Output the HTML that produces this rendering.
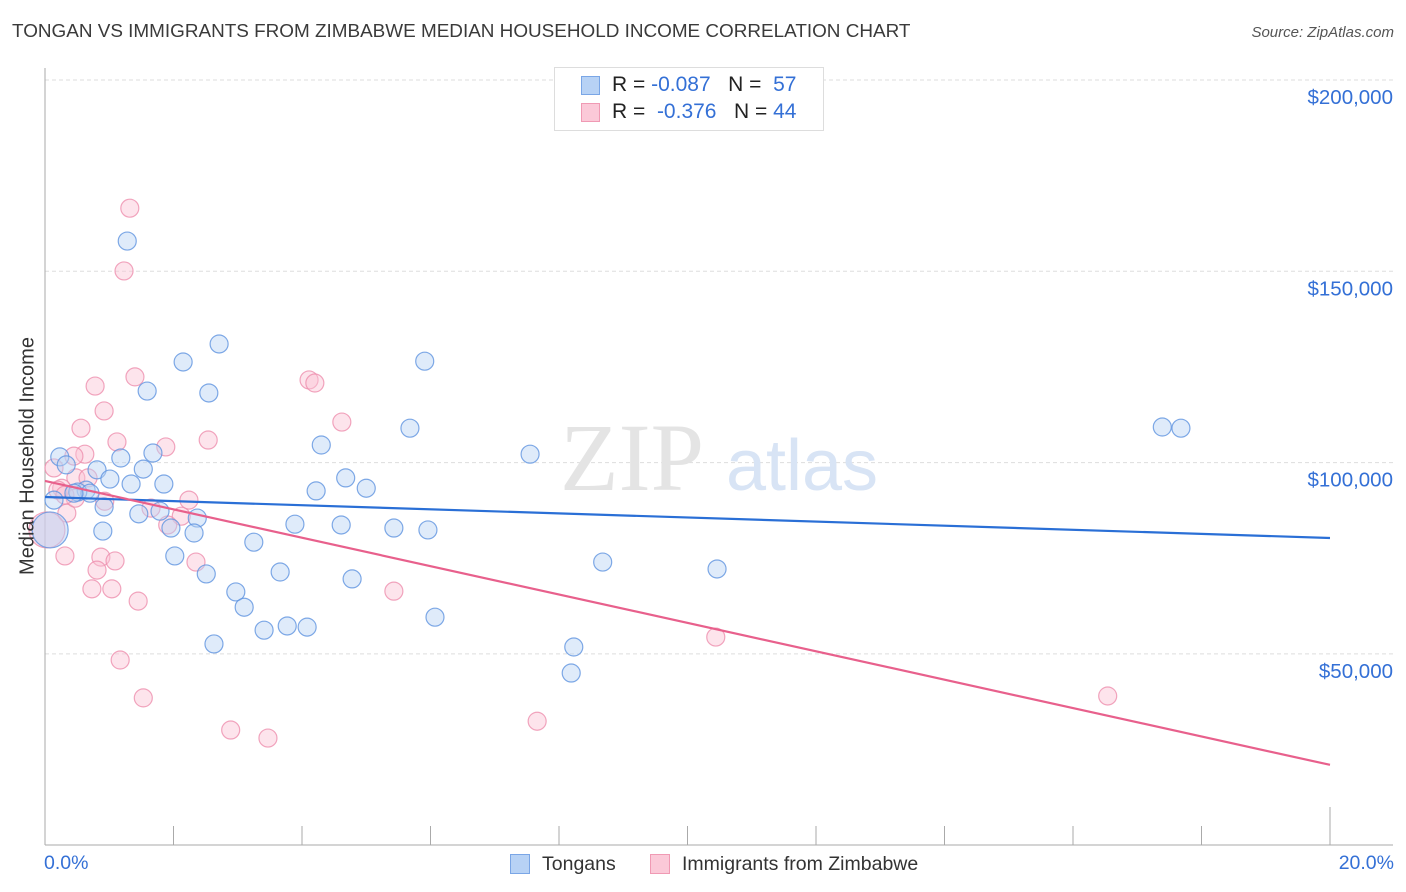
<!DOCTYPE html>
<html><head><meta charset="utf-8"><style>
body{margin:0;background:#fff;font-family:"Liberation Sans",sans-serif;}
#wrap{position:relative;width:1406px;height:892px;overflow:hidden;}
.t{position:absolute;white-space:nowrap;}
</style></head><body>
<div id="wrap">
<div class="t" style="left:12px;top:21px;font-size:18.9px;color:#3a3a3a;">TONGAN VS IMMIGRANTS FROM ZIMBABWE MEDIAN HOUSEHOLD INCOME CORRELATION CHART</div>
<div class="t" style="right:12px;top:24px;font-size:15px;color:#555;font-style:italic;">Source: ZipAtlas.com</div>
<svg id="svg" width="1406" height="892" style="position:absolute;left:0;top:0"></svg>
<div class="t" style="left:554px;top:67px;width:268px;height:62px;border:1px solid #ddd;background:#fff;"></div>
<div class="t" style="left:581px;top:76px;width:19px;height:19px;background:#b7d2f5;border:1px solid #7aa6e6;box-sizing:border-box;"></div>
<div class="t" style="left:581px;top:103px;width:19px;height:19px;background:#fbc9d8;border:1px solid #f09ab4;box-sizing:border-box;"></div>
<div class="t" style="left:612px;top:73px;font-size:21px;color:#222;">R = <span style="color:#3470d6">-0.087</span>&nbsp;&nbsp;&nbsp;N = &nbsp;<span style="color:#3470d6">57</span></div>
<div class="t" style="left:612px;top:100px;font-size:21px;color:#222;">R = &nbsp;<span style="color:#3470d6">-0.376</span>&nbsp;&nbsp;&nbsp;N = <span style="color:#3470d6">44</span></div>
<div class="t" style="left:28px;top:456px;font-size:20px;color:#333;transform:translate(-50%,-50%) rotate(-90deg);">Median Household Income</div>
<div class="t" style="left:44px;top:852px;font-size:19.5px;color:#3470d6;">0.0%</div>
<div class="t" style="right:12px;top:852px;font-size:19.5px;color:#3470d6;">20.0%</div>
<div class="t" style="left:510px;top:854px;width:20px;height:20px;background:#b7d2f5;border:1px solid #7aa6e6;box-sizing:border-box;"></div>
<div class="t" style="left:542px;top:853px;font-size:19.5px;color:#333;">Tongans</div>
<div class="t" style="left:650px;top:854px;width:20px;height:20px;background:#fbc9d8;border:1px solid #f09ab4;box-sizing:border-box;"></div>
<div class="t" style="left:682px;top:853px;font-size:19.5px;color:#333;">Immigrants from Zimbabwe</div>
</div>
<script>
const yTicks=[200000,150000,100000,50000];
const yTickLabels=["$200,000","$150,000","$100,000","$50,000"];
const xTicks=[0,2,4,6,8,10,12,14,16,18,20];
const tonganPct=[1.28,2.71,2.15,5.91,1.59,2.55,5.68,17.39,17.68,4.30,7.55,1.68,0.23,1.18,0.33,0.81,1.53,1.01,4.68,1.85,1.34,0.64,0.51,5.00,4.22,0.14,0.92,1.46,1.79,2.37,3.89,4.61,5.43,5.96,0.90,1.96,2.32,3.25,2.02,8.68,3.66,2.51,10.46,4.78,2.97,3.10,6.07,3.77,4.08,3.41,2.63,8.23,8.19,0.08,0.70,0.45];
const tonganIncome=[157900,131000,126300,126500,118700,118200,109000,109300,109000,104600,102200,102500,101500,101200,99400,98100,98300,95700,96000,94400,94400,92800,92300,93300,92600,90200,88400,86600,87300,85500,83900,83700,82900,82400,82100,82900,81600,79200,75600,74000,71400,70900,72200,69600,66200,62200,59600,57300,57000,56200,52600,51800,45000,82400,92000,92000];
const zimPct=[1.32,1.23,1.40,4.11,4.20,0.78,0.92,4.62,0.56,1.12,2.54,1.88,0.62,0.45,0.14,0.48,0.67,0.26,0.20,0.93,2.24,0.34,1.65,2.12,1.91,0.31,0.87,1.09,2.35,0.81,0.73,1.04,5.43,1.45,1.17,10.44,1.53,16.54,2.89,3.47,7.66,0.03,0.47,0.31];
const zimIncome=[166500,150100,122400,121600,120800,120000,113500,110600,109000,105400,105900,104100,102200,101700,98600,96000,96000,93300,92800,89900,90200,86800,88100,86000,83700,75600,75300,74300,74000,71900,67000,67000,66400,63800,48400,54400,38500,39000,30100,28000,32400,82400,90700,91500];
const tonganTrend=[91000,80300];
const zimTrend=[95200,21000];
const NS="http://www.w3.org/2000/svg";
const svg=document.getElementById('svg');
const X=p=>45+p/20*1285;
const Y=v=>80+(200000-v)*191.3/50000;
function mk(tag,attrs,name){const e=document.createElementNS(NS,tag);for(const k in attrs)e.setAttribute(k,attrs[k]);


svg.appendChild(e);return e;}
yTicks.forEach((v,i)=>{
  mk('line',{x1:45,x2:1393,y1:Y(v),y2:Y(v),stroke:'#ddd','stroke-dasharray':'4,3'},'gridline');
  const t=mk('text',{x:1393,y:Y(v)+24,'text-anchor':'end','font-size':20.5,fill:'#3470d6','font-family':'Liberation Sans'},'y-tick-label');
  t.textContent=yTickLabels[i];
});
mk('line',{x1:45,x2:45,y1:68,y2:845,stroke:'#aaa'},'y-axis-line');
mk('line',{x1:45,x2:1393,y1:845,y2:845,stroke:'#aaa'},'x-axis-line');
xTicks.forEach((p,i)=>{
  mk('line',{x1:X(p),x2:X(p),y1:(i==xTicks.length-1?807:826),y2:845,stroke:'#aaa'},'x-tick');
});
const wm=mk('text',{x:632,y:490,'text-anchor':'middle','font-size':96,fill:'#e4e4e4','font-family':'Liberation Serif'},'watermark-zip');wm.textContent='ZIP';
const wm2=mk('text',{x:802,y:490,'text-anchor':'middle','font-size':72,fill:'#d8e4f5','font-family':'Liberation Sans'},'watermark-atlas');wm2.textContent='atlas';
function pts(px,iv,fill,stroke,name){
  px.forEach((p,i)=>{const big=(p<0.1);
    mk('circle',{cx:X(p),cy:Y(iv[i]),r:big?18:9,fill:fill,'fill-opacity':big?0.5:0.45,stroke:stroke,'stroke-width':1.2,'stroke-opacity':0.8},name);});
}
pts(zimPct,zimIncome,'#fbc3d4','#ee8fae','point-zimbabwe');
pts(tonganPct,tonganIncome,'#b7d2f5','#5f93e0','point-tongan');
mk('line',{x1:X(0),x2:X(20),y1:Y(tonganTrend[0]),y2:Y(tonganTrend[1]),stroke:'#2a6fd6','stroke-width':2.2},'trend-tongans');
mk('line',{x1:X(0),x2:X(20),y1:Y(zimTrend[0]),y2:Y(zimTrend[1]),stroke:'#e8608c','stroke-width':2.2},'trend-zimbabwe');
</script>
</body></html>
